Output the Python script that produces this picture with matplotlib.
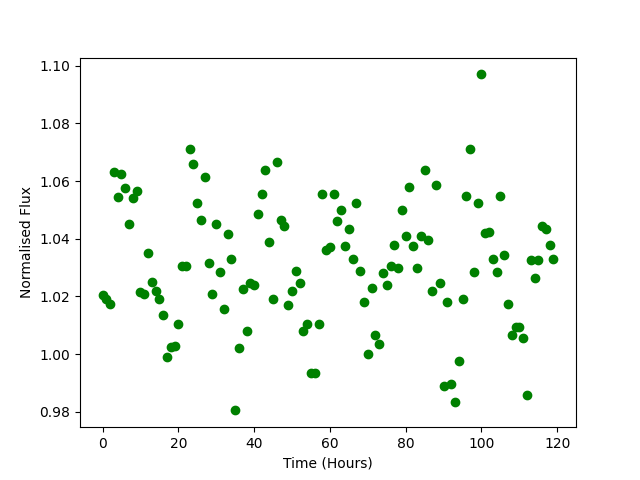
import numpy as np
import matplotlib
matplotlib.use("Agg")
import matplotlib.pyplot as plt

# hourly normalised flux readings
hours = np.arange(120)
flux = [
    1.0205, 1.019, 1.0175, 1.063, 1.0545, 1.0625, 1.0575, 1.045, 1.054, 1.0565,
    1.0215, 1.021, 1.035, 1.025, 1.022, 1.019, 1.0135, 0.999, 1.0025, 1.003,
    1.0105, 1.0305, 1.0305, 1.071, 1.066, 1.0525, 1.0465, 1.0615, 1.0315, 1.021,
    1.045, 1.0285, 1.0155, 1.0415, 1.033, 0.9805, 1.002, 1.0225, 1.008, 1.0245,
    1.024, 1.0485, 1.0555, 1.064, 1.039, 1.019, 1.0665, 1.0465, 1.0445, 1.017,
    1.022, 1.029, 1.0245, 1.008, 1.0105, 0.9935, 0.9935, 1.0105, 1.0555, 1.036,
    1.037, 1.0555, 1.046, 1.05, 1.0375, 1.0435, 1.033, 1.0525, 1.029, 1.018,
    1.0, 1.023, 1.0065, 1.0035, 1.028, 1.024, 1.0305, 1.038, 1.03, 1.05,
    1.041, 1.058, 1.0375, 1.03, 1.041, 1.064, 1.0395, 1.022, 1.0585, 1.0245,
    0.989, 1.018, 0.9895, 0.9835, 0.9975, 1.019, 1.055, 1.071, 1.0285, 1.0525,
    1.097, 1.042, 1.0425, 1.033, 1.0285, 1.055, 1.0345, 1.0175, 1.0065, 1.0095,
    1.0095, 1.0055, 0.986, 1.0325, 1.0265, 1.0325, 1.0445, 1.0435, 1.038, 1.033,
]

plt.figure(figsize=(6.4, 4.8))
plt.plot(hours, flux, "o", color="green")
plt.xlabel("Time (Hours)")
plt.ylabel("Normalised Flux")
plt.savefig("out.png", dpi=100)
